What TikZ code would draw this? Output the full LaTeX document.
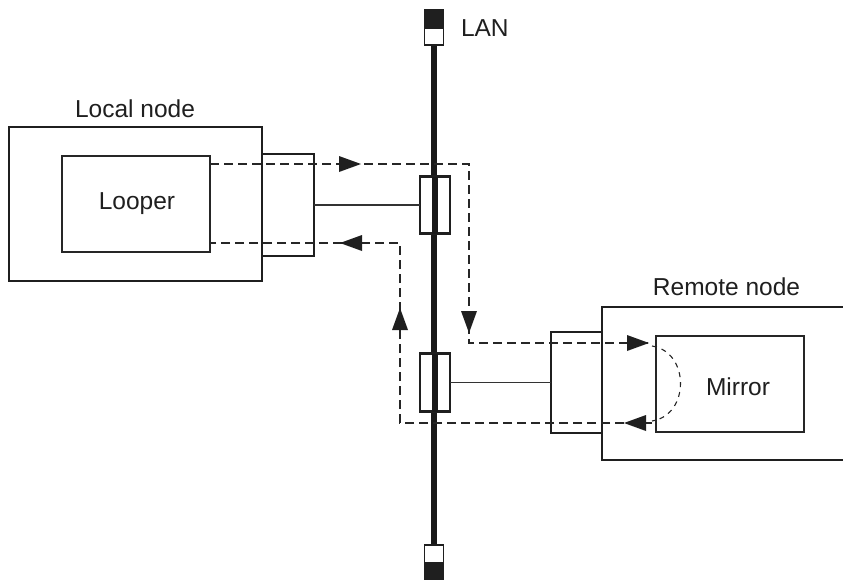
\documentclass[tikz,border=0pt]{standalone}
\usepackage{fontspec}
\setmainfont{Liberation Sans}
\begin{document}
\begin{tikzpicture}[x=1pt,y=-1pt,
  every node/.style={inner sep=0pt,outer sep=0pt},
  txt/.style={font=\fontsize{24.5}{29}\selectfont, text=black!88},
  bigbox/.style={draw=black!88, line width=2.6pt, rectangle, fill=white},
  inbox/.style={draw=black!85, line width=1.4pt, rectangle, fill=white},
  ifbox/.style={draw=black!88, line width=2.4pt, rectangle, fill=white},
  wire/.style={draw=black!80, line width=1.3pt},
  flow/.style={draw=black!85, line width=1.5pt, dash pattern=on 9pt off 5pt},
  loopflow/.style={draw=black!85, line width=1.1pt, dash pattern=on 5pt off 5pt},
  tip/.style={fill=black!88},
  term/.style={draw=black!88, line width=1.6pt, rectangle}
]
\useasboundingbox (0,0) rectangle (843,579);

% LAN backbone
\coordinate (lantop) at (434,45);
\coordinate (lanbot) at (434,545);
\draw[black!90, line width=5.5pt] (lantop) -- (lanbot);
\node[term, fill=black!88, minimum width=19pt, minimum height=18pt] (ttb) at (434,19) {};
\node[term, fill=white, minimum width=19pt, minimum height=17pt] (ttw) at (434,36.5) {};
\node[term, fill=white, minimum width=19pt, minimum height=18pt] (tbw) at (434,554) {};
\node[term, fill=black!88, minimum width=19pt, minimum height=22pt] (tbb) at (434,574) {};
\node[txt, anchor=base west] (lanlabel) at (461,36) {LAN};

% Local node
\node[bigbox, minimum width=253pt, minimum height=154pt] (localbox) at (135.5,204) {};
\node[txt, anchor=base] (locallabel) at (135,117) {Local node};
\node[inbox, minimum width=148pt, minimum height=96pt] (looper) at (136,204) {};
\node[txt] (loopertext) at (137,204) {Looper};
\node[ifbox, minimum width=52pt, minimum height=102pt] (localif) at (288,205) {};

% Remote node
\node[bigbox, minimum width=270pt, minimum height=153pt, anchor=north west] (remotebox) at (602,307) {};
\node[txt, anchor=base] (remotelabel) at (726.5,295) {Remote node};
\node[inbox, minimum width=148pt, minimum height=96pt] (mirror) at (730,384) {};
\node[txt, anchor=base] (mirrortext) at (738,395) {Mirror};
\node[ifbox, minimum width=51pt, minimum height=101pt] (remoteif) at (576.5,382.5) {};

% transceivers
\node[ifbox, minimum width=30pt, minimum height=57pt] (tr1) at (435,205) {};
\node[ifbox, minimum width=30pt, minimum height=58pt] (tr2) at (435,382.5) {};
\draw[wire] (localif.east) -- (tr1.west);
\draw[wire] (tr2.east) -- (remoteif.west);
\draw[black!90, line width=5.5pt] (tr1.north) -- (tr1.south);
\draw[black!90, line width=5.5pt] (tr2.north) -- (tr2.south);

% forward flow
\coordinate (f0) at (looper.east |- 0,164);
\coordinate (f1) at (469,164);
\coordinate (f2) at (469,343);
\coordinate (f3) at (648,343);
\draw[flow] (f0) -- (f1) -- (f2) -- (f3);
% loop in mirror
\coordinate (m0) at (652,346);
\coordinate (m1) at (652,421);
\draw[loopflow] (m0) .. controls (690,352) and (690,415) .. (m1);
% return flow
\coordinate (r0) at (652,423);
\coordinate (r1) at (400,423);
\coordinate (r2) at (400,243);
\coordinate (r3) at (looper.east |- 0,243);
\draw[flow] (r0) -- (r1) -- (r2) -- (r3);

% arrowheads
\fill[tip, shift={(361,164)}, rotate=0] (0,0) -- (-22,8) -- (-22,-8) -- cycle;
\fill[tip, shift={(469,333)}, rotate=270] (0,0) -- (-22,8) -- (-22,-8) -- cycle;
\fill[tip, shift={(649,343)}, rotate=0] (0,0) -- (-22,8) -- (-22,-8) -- cycle;
\fill[tip, shift={(624,423)}, rotate=180] (0,0) -- (-22,8) -- (-22,-8) -- cycle;
\fill[tip, shift={(400,308)}, rotate=90] (0,0) -- (-22,8) -- (-22,-8) -- cycle;
\fill[tip, shift={(340,243)}, rotate=180] (0,0) -- (-22,8) -- (-22,-8) -- cycle;
\end{tikzpicture}
\end{document}
